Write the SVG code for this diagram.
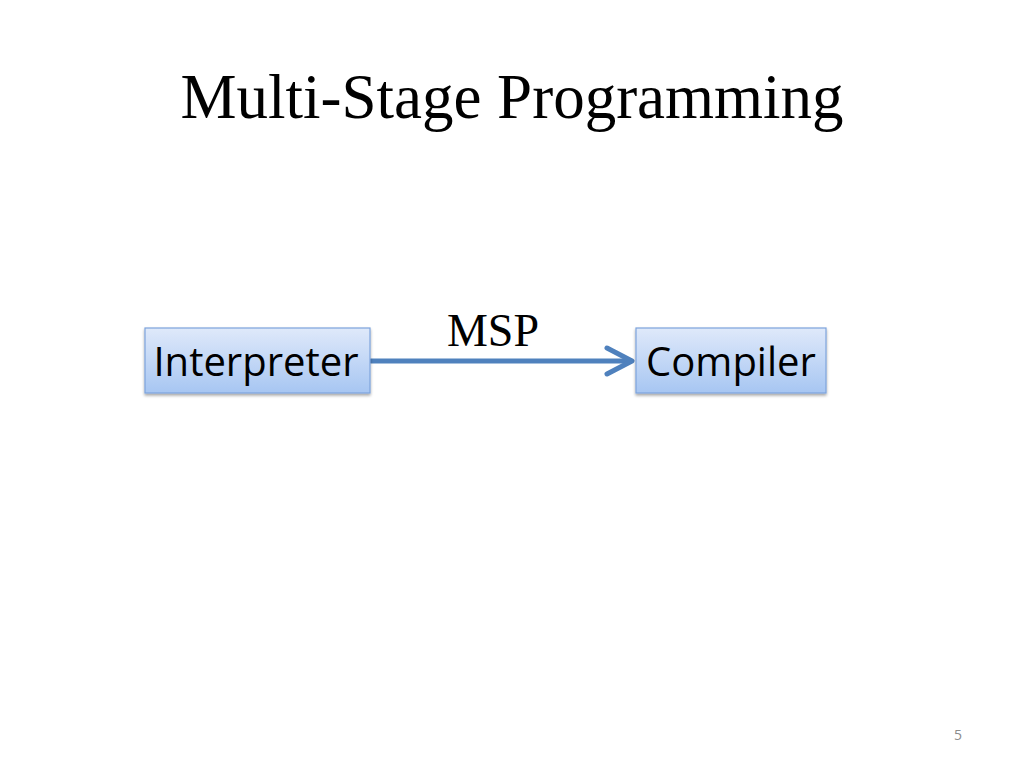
<svg xmlns="http://www.w3.org/2000/svg" width="1024" height="768" viewBox="0 0 1024 768">
<defs>
<linearGradient id="boxg" x1="0" y1="0" x2="0" y2="1">
<stop offset="0" stop-color="#dfe9fa"/>
<stop offset="1" stop-color="#a7c6f2"/>
</linearGradient>
<filter id="sh" x="-10%" y="-20%" width="120%" height="150%">
<feGaussianBlur in="SourceAlpha" stdDeviation="1.5"/>
<feOffset dx="0" dy="2" result="b"/>
<feComponentTransfer><feFuncA type="linear" slope="0.35"/></feComponentTransfer>
<feMerge><feMergeNode/><feMergeNode in="SourceGraphic"/></feMerge>
</filter>
</defs>
<style>
.box{fill:url(#boxg);stroke:#7da3dc;stroke-width:1.2;filter:url(#sh)}
.lbl{font-family:"Open Sans","Noto Sans","Liberation Sans",sans-serif;font-size:40px;fill:#000;text-anchor:middle}
.serif{font-family:"Liberation Serif","Times New Roman",serif;fill:#000;text-anchor:middle}
.conn{stroke:#4f81bd;stroke-width:5;fill:none;stroke-linecap:round;stroke-linejoin:round}
</style>
<rect width="1024" height="768" fill="#fff"/>
<text class="serif" x="512" y="118" font-size="63">Multi-Stage Programming</text>
<g id="connectors">
<line class="conn" x1="371" y1="361" x2="630" y2="361"/>
<polyline class="conn" points="607,348 632,361 607,374"/>
<text class="serif" x="493" y="346" font-size="46">MSP</text>
</g>
<g id="interpreter">
<rect class="box" x="145" y="328" width="225" height="65"/>
<text class="lbl" x="256" y="376">Interpreter</text>
</g>
<g id="compiler">
<rect class="box" x="636" y="328" width="190" height="65"/>
<text class="lbl" x="731" y="376">Compiler</text>
</g>
<text x="958" y="740" font-family="'Open Sans','Liberation Sans',sans-serif" font-size="14" fill="#8c8c8c" text-anchor="middle">5</text>
</svg>
